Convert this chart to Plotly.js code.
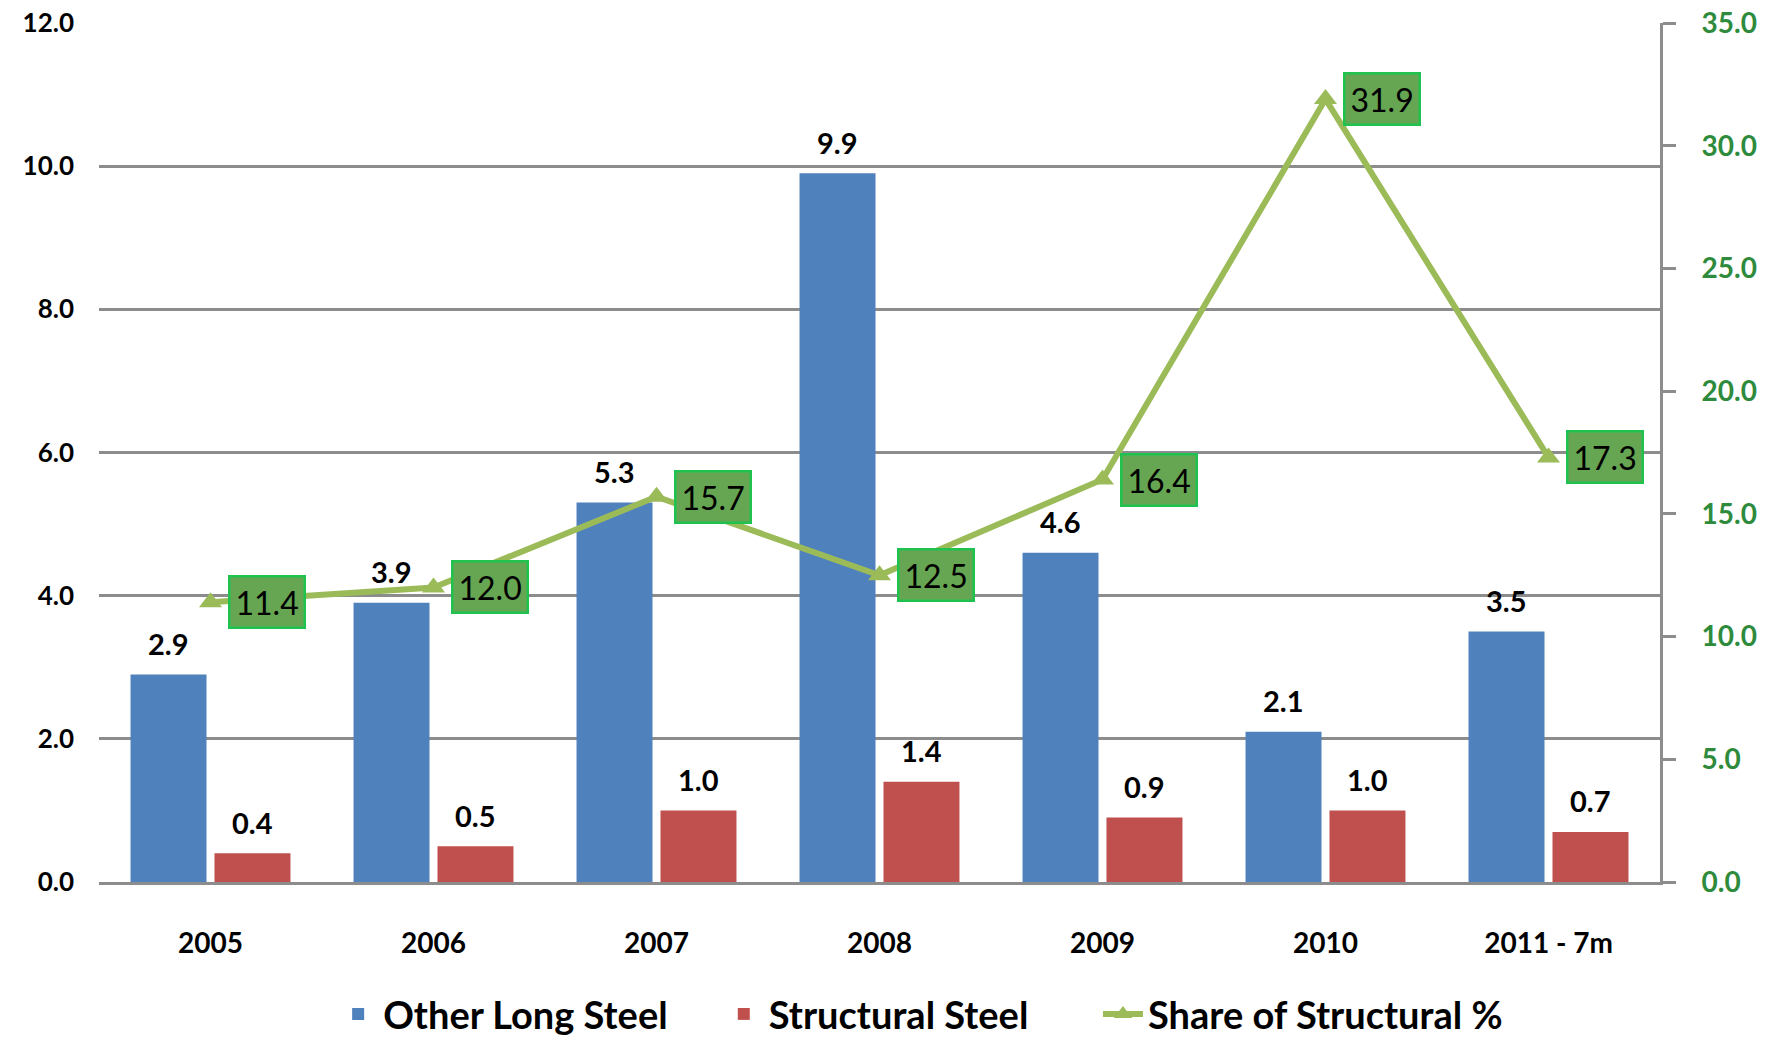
<!DOCTYPE html>
<html><head><meta charset="utf-8">
<script src="https://cdn.plot.ly/plotly-3.0.1.min.js"></script>
<style>html,body{margin:0;padding:0;background:#fff}#chart{width:1777px;height:1037px}</style>
</head><body><div id="chart"></div>
<script>
const categories = ['2005','2006','2007','2008','2009','2010','2011 - 7m'];
const otherLongSteel = [2.9, 3.9, 5.3, 9.9, 4.6, 2.1, 3.5];
const structuralSteel = [0.4, 0.5, 1.0, 1.4, 0.9, 1.0, 0.7];
const shareStructural = [11.4, 12.0, 15.7, 12.5, 16.4, 31.9, 17.3];
const seriesNames = ['Other Long Steel', 'Structural Steel', 'Share of Structural %'];
const leftTicks = [0, 2, 4, 6, 8, 10, 12];
const rightTicks = [0, 5, 10, 15, 20, 25, 30, 35];

const F = 'Lato, "Open Sans", sans-serif';
const W = 1777, H = 1037, ML = 99, MR = 117, BARGAP = 0.247;
const slotPx = (W - ML - MR) / categories.length * (1 - BARGAP) / 2;
const pad = n => '\u00a0'.repeat(n);

const traces = [
  {type: 'bar', name: seriesNames[0] + pad(5), x: categories, y: otherLongSteel,
   marker: {color: '#4F81BD'}},
  {type: 'bar', name: seriesNames[1] + pad(7), x: categories, y: structuralSteel,
   marker: {color: '#C0504D'}},
  {type: 'scatter', mode: 'lines+markers', name: seriesNames[2], x: categories,
   y: shareStructural, yaxis: 'y2', line: {color: '#9BBB59', width: 6},
   marker: {symbol: 'triangle-up', size: 20, color: '#9BBB59'}, cliponaxis: false}
];

const barLabel = (vals, side) => vals.map((v, i) => ({
  x: i, y: v, xref: 'x', yref: 'y', text: v.toFixed(1), showarrow: false,
  xanchor: 'center', yanchor: 'middle', xshift: side * slotPx / 2, yshift: 31,
  font: {family: F, size: 29, color: '#000', weight: 'bold'}
}));

const shareLabels = shareStructural.map((v, i) => ({
  x: i, y: v, xref: 'x', yref: 'y2', text: v.toFixed(1),
  showarrow: false, xanchor: 'left', yanchor: 'middle', xshift: 17,
  font: {family: F, size: 32, color: '#000'},
  bgcolor: '#66a653', bordercolor: '#1fc24f', borderwidth: 2.5, borderpad: 5
}));

const layout = {
  width: W, height: H,
  margin: {l: ML, r: MR, t: 23, b: 155},
  paper_bgcolor: '#fff', plot_bgcolor: '#fff',
  barmode: 'group', bargap: BARGAP, bargroupgap: 0.095,
  showlegend: true,
  legend: {orientation: 'h', x: 0.15, xanchor: 'left', xref: 'paper',
           y: 0.022, yref: 'container', yanchor: 'middle',
           font: {family: F, size: 38, color: '#000', weight: 'bold'},
           itemwidth: 40, traceorder: 'normal'},
  xaxis: {type: 'category', tickfont: {family: F, size: 28, color: '#000', weight: 'bold'},
          showgrid: false, showline: true, linecolor: '#8c8c8c', linewidth: 3,
          ticks: '', ticklabelstandoff: 34, zeroline: false, automargin: false},
  yaxis: {range: [0, 12], tickvals: leftTicks, ticktext: leftTicks.map(v => v.toFixed(1)),
          tickfont: {family: F, size: 26, color: '#000', weight: 'bold'},
          showgrid: true, gridcolor: '#8c8c8c', gridwidth: 3, zeroline: false,
          showline: false, ticks: '', ticklabelstandoff: 24, automargin: false},
  yaxis2: {overlaying: 'y', side: 'right', range: [0, 35], tickvals: rightTicks,
           ticktext: rightTicks.map(v => v.toFixed(1)),
           tickfont: {family: F, size: 28, color: '#2E8B3C', weight: 'bold'},
           showgrid: false, zeroline: false, showline: true, linecolor: '#8c8c8c', linewidth: 3,
           ticks: 'outside', ticklen: 13, tickwidth: 3, tickcolor: '#8c8c8c', ticklabelstandoff: 20,
           automargin: false},
  annotations: barLabel(otherLongSteel, -1).concat(barLabel(structuralSteel, 1), shareLabels)
};

Plotly.newPlot('chart', traces, layout, {staticPlot: true});
</script></body></html>
